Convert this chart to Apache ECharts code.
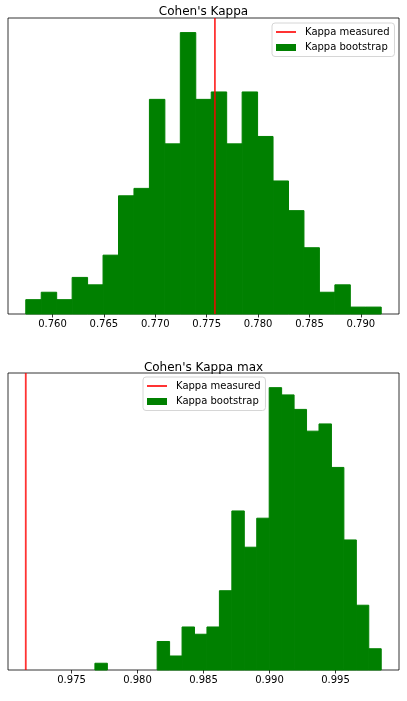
<!DOCTYPE html>
<html>
<head>
<meta charset="utf-8">
<script src="https://cdn.jsdelivr.net/npm/echarts@6/dist/echarts.min.js"></script>
<style>
html,body{margin:0;padding:0;background:#fff;}
#c{width:407px;height:701px;}
</style>
</head>
<body>
<div id="c"></div>
<script>
// ---- Data ----
var kappaTitle = "Cohen's Kappa";
var kappaMaxTitle = "Cohen's Kappa max";
var legendNames = ['Kappa measured', 'Kappa bootstrap'];

// Top histogram: bootstrap Cohen's Kappa
var kappaRange = [0.7574, 0.79198];           // histogram data min / max
var kappaCounts = [2, 3, 2, 5, 4, 8, 16, 17, 29, 23, 38, 29, 30, 23, 30, 24, 18, 14, 9, 3, 4, 1, 1];
var kappaMeasured = 0.7758;
var kappaTicks = [0.760, 0.765, 0.770, 0.775, 0.780, 0.785, 0.790];

// Bottom histogram: bootstrap Cohen's Kappa max
var kappaMaxRange = [0.97677, 0.99847];
var kappaMaxCounts = [1, 0, 0, 0, 0, 4, 2, 6, 5, 6, 11, 22, 17, 21, 39, 38, 36, 33, 34, 28, 18, 9, 3];
var kappaMaxMeasured = 0.97153;
var kappaMaxTicks = [0.975, 0.980, 0.985, 0.990, 0.995];

// ---- Build histogram bins ----
function bins(range, counts) {
  var n = counts.length, w = (range[1] - range[0]) / n, out = [];
  for (var i = 0; i < n; i++) out.push([range[0] + i * w, range[0] + (i + 1) * w, counts[i]]);
  return out;
}
function xLimits(range, measured) {
  var lo = Math.min(range[0], measured), hi = Math.max(range[1], measured);
  var pad = (hi - lo) * 0.05;
  return [lo - pad, hi + pad];
}
function yMax(counts) { return Math.max.apply(null, counts) * 1.05; }

var FONT = 'DejaVu Sans';
var RED = 'rgba(255,0,0,0.8)';
var GREEN = '#008000';

function renderHist(params, api) {
  var h = api.value(2);
  if (!h) return null;
  var p0 = api.coord([api.value(0), h]);
  var p1 = api.coord([api.value(1), 0]);
  return {
    type: 'rect',
    shape: { x: p0[0], y: p0[1] + 0.5, width: p1[0] - p0[0], height: p1[1] - p0[1] - 0.5 },
    style: { fill: GREEN, stroke: GREEN, lineWidth: 1 }
  };
}

function xAxisCfg(gridIndex, lim, ticks) {
  return {
    type: 'value', gridIndex: gridIndex, min: lim[0], max: lim[1],
    axisLine: { show: false },
    splitLine: { show: false },
    axisTick: { show: true, inside: false, length: 3.5, customValues: ticks, lineStyle: { color: '#000', width: 0.8 } },
    axisLabel: { show: true, margin: 5, customValues: ticks, fontFamily: FONT, fontSize: 10, color: '#000',
      formatter: function (v) { return v.toFixed(3); } }
  };
}
function yAxisCfg(gridIndex, max) {
  return {
    type: 'value', gridIndex: gridIndex, min: 0, max: max,
    axisLine: { show: false }, axisTick: { show: false }, axisLabel: { show: false }, splitLine: { show: false }
  };
}
function legendCfg(left, top) {
  return {
    orient: 'vertical', left: left, top: top,
    data: [
      { name: legendNames[0], itemStyle: { opacity: 0 }, lineStyle: { color: RED, width: 2 } },
      { name: legendNames[1], icon: 'rect' }
    ],
    itemWidth: 20, itemHeight: 7, itemGap: 3.5,
    padding: [3, 5, 3, 3],
    borderColor: '#d6d6d6', borderWidth: 1, borderRadius: 3, backgroundColor: 'rgba(255,255,255,0.8)',
    textStyle: { fontFamily: FONT, fontSize: 10, color: '#000', lineHeight: 12, padding: [0, 0, 0, 4] },
    selectedMode: false
  };
}

var kLim = xLimits(kappaRange, kappaMeasured);
var kmLim = xLimits(kappaMaxRange, kappaMaxMeasured);
var kY = yMax(kappaCounts), kmY = yMax(kappaMaxCounts);

var option = {
  animation: false,
  backgroundColor: '#fff',
  title: [
    { text: kappaTitle, left: 'center', top: 0, textStyle: { fontFamily: FONT, fontSize: 12, fontWeight: 'normal', color: '#000', lineHeight: 14 } },
    { text: kappaMaxTitle, left: 'center', top: 355.5, textStyle: { fontFamily: FONT, fontSize: 12, fontWeight: 'normal', color: '#000', lineHeight: 14 } }
  ],
  grid: [
    { left: 8, right: 8, top: 18, height: 296, show: true, borderColor: '#000', borderWidth: 0.8, backgroundColor: 'transparent' },
    { left: 8, right: 8, top: 373, height: 297, show: true, borderColor: '#000', borderWidth: 0.8, backgroundColor: 'transparent' }
  ],
  legend: [legendCfg(272, 23), legendCfg(143, 377)],
  xAxis: [xAxisCfg(0, kLim, kappaTicks), xAxisCfg(1, kmLim, kappaMaxTicks)],
  yAxis: [yAxisCfg(0, kY), yAxisCfg(1, kmY)],
  series: [
    { name: legendNames[1], type: 'custom', xAxisIndex: 0, yAxisIndex: 0, renderItem: renderHist,
      itemStyle: { color: GREEN }, data: bins(kappaRange, kappaCounts), z: 2 },
    { name: legendNames[0], type: 'line', xAxisIndex: 0, yAxisIndex: 0, symbol: 'none',
      lineStyle: { color: RED, width: 1.8 }, itemStyle: { color: RED },
      data: [[kappaMeasured, 0], [kappaMeasured, kY]], z: 5 },
    { name: legendNames[1], type: 'custom', xAxisIndex: 1, yAxisIndex: 1, renderItem: renderHist,
      itemStyle: { color: GREEN }, data: bins(kappaMaxRange, kappaMaxCounts), z: 2 },
    { name: legendNames[0], type: 'line', xAxisIndex: 1, yAxisIndex: 1, symbol: 'none',
      lineStyle: { color: RED, width: 1.8 }, itemStyle: { color: RED },
      data: [[kappaMaxMeasured, 0], [kappaMaxMeasured, kmY]], z: 5 }
  ]
};
var chart = echarts.init(document.getElementById('c'), null, { renderer: 'canvas' });
chart.setOption(option);
</script>
</body>
</html>
